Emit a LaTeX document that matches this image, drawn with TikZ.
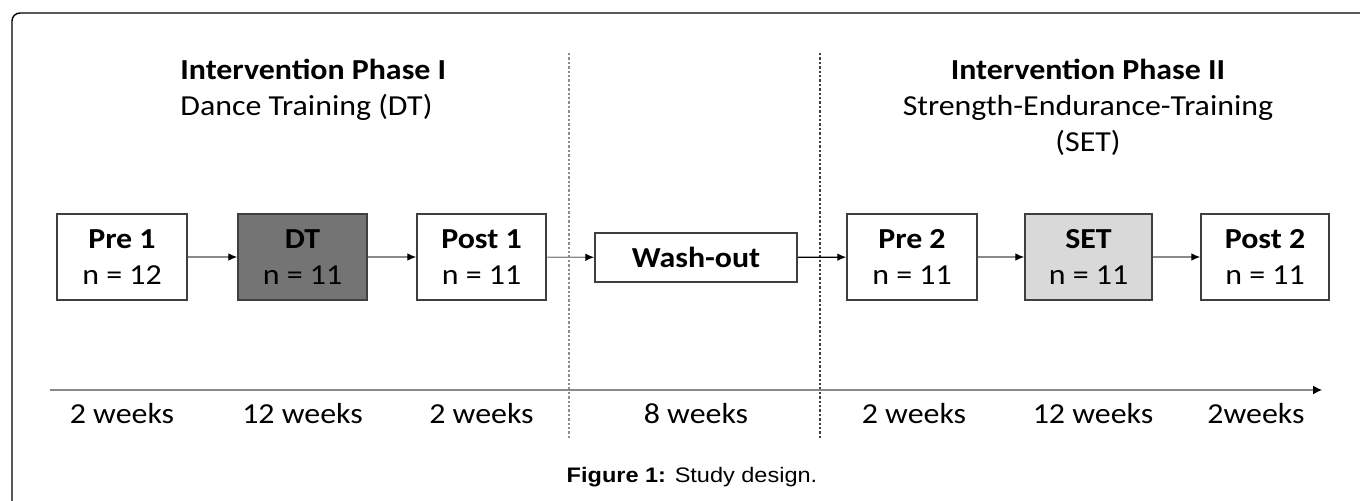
\documentclass[tikz,border=0pt]{standalone}
\usepackage{fontspec}
\setmainfont{Carlito}[FakeStretch=1.1]
\newfontfamily\figcapfont{Liberation Sans}[FakeStretch=1.12]
\usetikzlibrary{arrows.meta}
\definecolor{darkfill}{HTML}{747474}
\definecolor{lightfill}{HTML}{D9D9D9}
\definecolor{boxline}{HTML}{3F3F3F}
\definecolor{flowline}{HTML}{8A8A8A}
\tikzset{
	stage/.style={draw=boxline,line width=0.75pt,fill=white,minimum width=65pt,minimum height=43pt,inner sep=0pt,align=center,font=\fontsize{14.5}{18}\selectfont},
	flow/.style={draw=flowline,line width=0.6pt,-{Latex[length=4.5pt,width=3.8pt,black]}},
	lbl/.style={inner sep=0pt,anchor=base,font=\fontsize{14.5}{18}\selectfont},
	divider/.style={line width=0.6pt,dash pattern=on 1.2pt off 1pt}
}

\begin{document}
\begin{tikzpicture}[x=0.5pt,y=-0.5pt]
			\useasboundingbox (0,0) rectangle (1360,501);
			\draw[line width=0.7pt,rounded corners=4pt] (12,13) rectangle (1390,540);
			\node[lbl,anchor=base west] (ph1) at (180,80) {\textbf{Intervention Phase I}};
			\node[lbl,anchor=base west] (ph1sub) at (180,116) {Dance Training (DT)};
			\node[lbl] (ph2) at (1088,80) {\textbf{Intervention Phase II}};
			\node[lbl] (ph2sub) at (1088,116) {Strength-Endurance-Training};
			\node[lbl] (ph2abbr) at (1088,152) {(SET)};
			\coordinate (d1top) at (569,53);
			\coordinate (d1bot) at (569,438);
			\coordinate (d2top) at (820,53);
			\coordinate (d2bot) at (820,438);
			\draw[divider,color=black!45] (d1top) -- (d1bot);
			\draw[divider,color=black!75] (d2top) -- (d2bot);
			\node[stage] (pre1) at (122,257) {\textbf{Pre 1}\\n = 12};
			\node[stage,fill=darkfill,minimum width=64.5pt] (dt) at (302.5,257) {\textbf{DT}\\n = 11};
			\node[stage,minimum width=64.5pt] (post1) at (481.5,257) {\textbf{Post 1}\\n = 11};
			\node[stage,minimum width=101pt,minimum height=24.5pt] (wash) at (696,257.5) {\textbf{Wash-out}};
			\node[stage] (pre2) at (912,257) {\textbf{Pre 2}\\n = 11};
			\node[stage,fill=lightfill,minimum width=63.5pt] (set) at (1088.5,257) {\textbf{SET}\\n = 11};
			\node[stage,minimum width=64pt] (post2) at (1265,257) {\textbf{Post 2}\\n = 11};
			\draw (pre1) edge [flow] (dt);
			\draw (dt) edge [flow] (post1);
			\draw (post1) edge [flow] (wash);
			\draw (wash) edge [flow,draw=black] (pre2);
			\draw (pre2) edge [flow] (set);
			\draw (set) edge [flow] (post2);
			\coordinate (t0) at (50,390);
			\coordinate (t1) at (1322,390);
			\draw[flow,-{Latex[length=4.5pt,width=4.5pt,black]}] (t0) -- (t1);
			\node[lbl] (w1) at (122,424) {2 weeks};
			\node[lbl] (w2) at (302.5,424) {12 weeks};
			\node[lbl] (w3) at (481.5,424) {2 weeks};
			\node[lbl] (w4) at (696,424) {8 weeks};
			\node[lbl] (w5) at (914,424) {2 weeks};
			\node[lbl] (w6) at (1093,424) {12 weeks};
			\node[lbl] (w7) at (1256,424) {2weeks};
			\node[inner sep=0pt,anchor=base,font=\figcapfont\fontsize{10.5}{12}\selectfont] (cap) at (692,483) {\textbf{Figure 1:} Study design.};
		\end{tikzpicture}
\end{document}
